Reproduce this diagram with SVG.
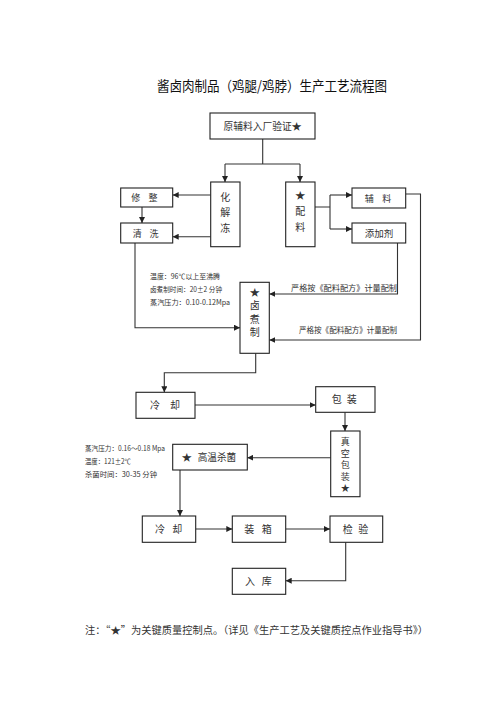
<svg xmlns="http://www.w3.org/2000/svg" width="496" height="702" viewBox="0 0 496 702">
<defs>
<marker id="arr" markerUnits="userSpaceOnUse" markerWidth="7" markerHeight="6" refX="6" refY="3" orient="auto">
<path d="M0,0 L6,3 L0,6 z" fill="#222"/>
</marker>
<style>
.box{fill:#fff;stroke:#222;stroke-width:1.1}
.ln{fill:none;stroke:#333;stroke-width:1.1}
.ar{fill:none;stroke:#333;stroke-width:1.1;marker-end:url(#arr)}
text{font-family:"Noto Sans CJK SC","Liberation Sans",sans-serif;fill:#333}
.t{font-size:10px;text-anchor:middle}
.n{font-size:7px}
.l{font-size:8.5px}
.title{font-size:14px;fill:#111}
</style>
</defs>
<rect width="496" height="702" fill="#fff"/>
<text class="title" x="157" y="91" textLength="230" lengthAdjust="spacingAndGlyphs">酱卤肉制品（鸡腿/鸡脖）生产工艺流程图</text>

<g id="connectors">
<path class="ln" d="M262.7,139 V164 M225,164 H300"/>
<path class="ar" d="M225,164 V182"/>
<path class="ar" d="M300,164 V182"/>
<path class="ar" d="M210.7,195 H172.7"/>
<path class="ar" d="M210.7,236.7 H172.7"/>
<path class="ar" d="M142,207 V223"/>
<path class="ln" d="M315,207 H330 M330,195 V229"/>
<path class="ar" d="M330,195 H352"/>
<path class="ar" d="M330,229 H352"/>
<path class="ar" d="M405.7,194 H420.5 V340 H269.3"/>
<path class="ar" d="M397.5,243 V294 H269.3"/>
<path class="ar" d="M135,243 V327.7 H240"/>
<path class="ar" d="M255.7,353.3 V372.7 H164.3 V392.3"/>
<path class="ar" d="M195,405 H315.7"/>
<path class="ar" d="M345,412.3 V431"/>
<path class="ar" d="M330.7,457.7 H247.3"/>
<path class="ar" d="M180,470 V516"/>
<path class="ar" d="M195.7,529 H232.3"/>
<path class="ar" d="M285.7,529 H330"/>
<path class="ar" d="M345.7,542.3 V580.7 H285.7"/>
<text class="l" x="291" y="291" textLength="106" lengthAdjust="spacingAndGlyphs">严格按《配料配方》计量配制</text>
<text class="l" x="299" y="333" textLength="98" lengthAdjust="spacingAndGlyphs">严格按《配料配方》计量配制</text>
</g>

<g id="n-raw">
<rect class="box" x="210" y="113" width="105" height="26"/>
<text class="t" x="262.5" y="129.5" textLength="78" lengthAdjust="spacingAndGlyphs">原辅料入厂验证★</text>
</g>
<g id="n-thaw">
<rect class="box" x="210.7" y="182" width="29.3" height="64.7"/>
<text class="t" x="225.3" y="200.5">化</text>
<text class="t" x="225.3" y="215.5">解</text>
<text class="t" x="225.3" y="231.5">冻</text>
</g>
<g id="n-mix">
<rect class="box" x="285.7" y="182" width="29.3" height="64.7"/>
<text class="t" x="300.3" y="198.5">★</text>
<text class="t" x="300.3" y="215">配</text>
<text class="t" x="300.3" y="230.5">料</text>
</g>
<g id="n-trim">
<rect class="box" x="120.7" y="188" width="52" height="19"/>
<text class="t" x="135.7" y="201" style="font-size:9px">修</text>
<text class="t" x="153" y="201" style="font-size:9px">整</text>
</g>
<g id="n-wash">
<rect class="box" x="120.7" y="223" width="52" height="20"/>
<text class="t" x="137.3" y="236.5" style="font-size:9px">清</text>
<text class="t" x="154" y="236.5" style="font-size:9px">洗</text>
</g>
<g id="n-aux">
<rect class="box" x="352" y="188" width="53.7" height="20"/>
<text class="t" x="369.3" y="201.5" style="font-size:9px">辅</text>
<text class="t" x="386.7" y="201.5" style="font-size:9px">料</text>
</g>
<g id="n-add">
<rect class="box" x="352" y="223" width="53.7" height="20"/>
<text class="t" x="379" y="236.5" style="font-size:9.5px">添加剂</text>
</g>
<g id="n-braise">
<rect class="box" x="240" y="282.3" width="29.3" height="71"/>
<text class="t" x="254.7" y="295.5">★</text>
<text class="t" x="254.7" y="309">卤</text>
<text class="t" x="254.7" y="322.5">煮</text>
<text class="t" x="254.7" y="336">制</text>
<text class="n" x="150" y="279" textLength="70" lengthAdjust="spacingAndGlyphs">温度：96℃以上至沸腾</text>
<text class="n" x="150" y="292" textLength="72" lengthAdjust="spacingAndGlyphs">卤煮制时间：20±2 分钟</text>
<text class="n" x="150" y="304.5" textLength="80" lengthAdjust="spacingAndGlyphs">蒸汽压力：0.10-0.12Mpa</text>
</g>
<g id="n-cool1">
<rect class="box" x="136" y="392.3" width="59" height="26"/>
<text class="t" x="155" y="408.5">冷</text>
<text class="t" x="175" y="408.5">却</text>
</g>
<g id="n-pack">
<rect class="box" x="315.7" y="386.7" width="59.3" height="25.6"/>
<text class="t" x="336.7" y="403">包</text>
<text class="t" x="351.7" y="403">装</text>
</g>
<g id="n-vac">
<rect class="box" x="330.7" y="431" width="29.3" height="65.7"/>
<text class="t" x="345.3" y="445" style="font-size:9px">真</text>
<text class="t" x="345.3" y="456.5" style="font-size:9px">空</text>
<text class="t" x="345.3" y="468" style="font-size:9px">包</text>
<text class="t" x="345.3" y="479.5" style="font-size:9px">装</text>
<text class="t" x="345.3" y="491" style="font-size:9px">★</text>
</g>
<g id="n-steril">
<rect class="box" x="172.7" y="444.3" width="74.6" height="25.7"/>
<text class="t" x="186.7" y="461">★</text>
<text class="t" x="217" y="461" textLength="38.5" lengthAdjust="spacingAndGlyphs">高温杀菌</text>
<text class="n" x="85" y="451" textLength="80" lengthAdjust="spacingAndGlyphs">蒸汽压力：0.16～0.18 Mpa</text>
<text class="n" x="85" y="463.5" textLength="46" lengthAdjust="spacingAndGlyphs">温度：121±2℃</text>
<text class="n" x="85" y="477" textLength="72" lengthAdjust="spacingAndGlyphs">杀菌时间：30-35 分钟</text>
</g>
<g id="n-cool2">
<rect class="box" x="142.3" y="516" width="53.4" height="26.3"/>
<text class="t" x="160" y="532.5">冷</text>
<text class="t" x="177.3" y="532.5">却</text>
</g>
<g id="n-box">
<rect class="box" x="232.3" y="516" width="53.4" height="26.3"/>
<text class="t" x="249.3" y="532.5">装</text>
<text class="t" x="266.7" y="532.5">箱</text>
</g>
<g id="n-check">
<rect class="box" x="330" y="516" width="52.7" height="26.3"/>
<text class="t" x="347.7" y="532.5">检</text>
<text class="t" x="363.3" y="532.5">验</text>
</g>
<g id="n-store">
<rect class="box" x="232.3" y="568.3" width="53.4" height="26"/>
<text class="t" x="250" y="584.5">入</text>
<text class="t" x="266.7" y="584.5">库</text>
</g>
<text x="85" y="634" style="font-size:10px" textLength="343" lengthAdjust="spacingAndGlyphs">注：“★”为关键质量控制点。（详见《生产工艺及关键质控点作业指导书》）</text>
</svg>
